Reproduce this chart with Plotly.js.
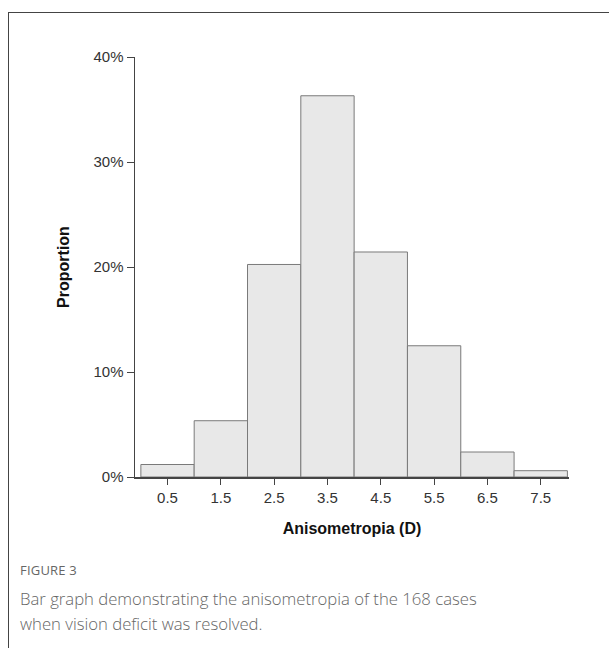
<!DOCTYPE html>
<html>
<head>
<meta charset="utf-8">
<script src="https://cdn.plot.ly/plotly-3.0.1.min.js"></script>
<style>
  html, body { margin: 0; padding: 0; background: #fff; }
  #wrap { position: relative; width: 609px; height: 648px; overflow: hidden; }
  #frame { position: absolute; left: 8px; top: 12px; width: 700px; height: 700px;
           border: 1.5px solid #444; box-sizing: border-box; }
  #chart { position: absolute; left: 0; top: 0; }
  #figlab { position: absolute; left: 20px; top: 561px; font-family: "Open Sans", sans-serif;
            font-size: 13px; color: #666; letter-spacing: 0.2px; font-weight: 500; }
  #caption { position: absolute; left: 20px; top: 586px; width: 585px; font-family: "Open Sans", sans-serif;
             font-size: 16.7px; line-height: 25px; color: #666; font-weight: 300; }
</style>
</head>
<body>
<div id="wrap">
  <div id="frame"></div>
  <div id="chart"></div>
  <div id="figlab">FIGURE 3</div>
  <div id="caption">Bar graph demonstrating the anisometropia of the 168 cases<br>when vision deficit was resolved.</div>
</div>
<script>
const binCenters = [0.5, 1.5, 2.5, 3.5, 4.5, 5.5, 6.5, 7.5];
const tickLabels = ["0.5", "1.5", "2.5", "3.5", "4.5", "5.5", "6.5", "7.5"];
const proportions = [1.19, 5.36, 20.24, 36.31, 21.43, 12.5, 2.38, 0.6];
const yTicks = [0, 10, 20, 30, 40];
const yTickLabels = ["0%", "10%", "20%", "30%", "40%"];

const trace = {
  type: 'bar',
  x: binCenters,
  y: proportions,
  width: 1,
  marker: { color: '#e8e8e8', line: { color: '#7a7a7a', width: 1 } },
  hoverinfo: 'skip'
};

const layout = {
  width: 609, height: 648,
  margin: { l: 135, r: 40, t: 57, b: 171 },
  paper_bgcolor: 'rgba(0,0,0,0)',
  plot_bgcolor: 'rgba(0,0,0,0)',
  showlegend: false,
  font: { family: 'Liberation Sans', color: '#333', size: 15 },
  xaxis: {
    range: [-0.11, 8.03],
    tickmode: 'array', tickvals: binCenters, ticktext: tickLabels,
    showline: true, linecolor: '#444', linewidth: 1.5,
    ticks: 'outside', ticklen: 6, tickcolor: '#444',
    showgrid: false, zeroline: false,
    tickfont: { family: 'Liberation Sans', size: 15, color: '#333' },
    title: { text: 'Anisometropia (D)', font: { family: 'Liberation Sans', size: 16, color: '#111', weight: 'bold' }, standoff: 18 }
  },
  yaxis: {
    range: [0, 40],
    tickmode: 'array', tickvals: yTicks, ticktext: yTickLabels,
    showline: true, linecolor: '#444', linewidth: 1.5,
    ticks: 'outside', ticklen: 7, tickcolor: '#444',
    showgrid: false, zeroline: false,
    tickfont: { family: 'Liberation Sans', size: 15, color: '#333' },
    title: { text: 'Proportion', font: { family: 'Liberation Sans', size: 16, color: '#111', weight: 'bold' }, standoff: 20 }
  }
};

Plotly.newPlot('chart', [trace], layout, { displayModeBar: false, staticPlot: true });
</script>
</body>
</html>
